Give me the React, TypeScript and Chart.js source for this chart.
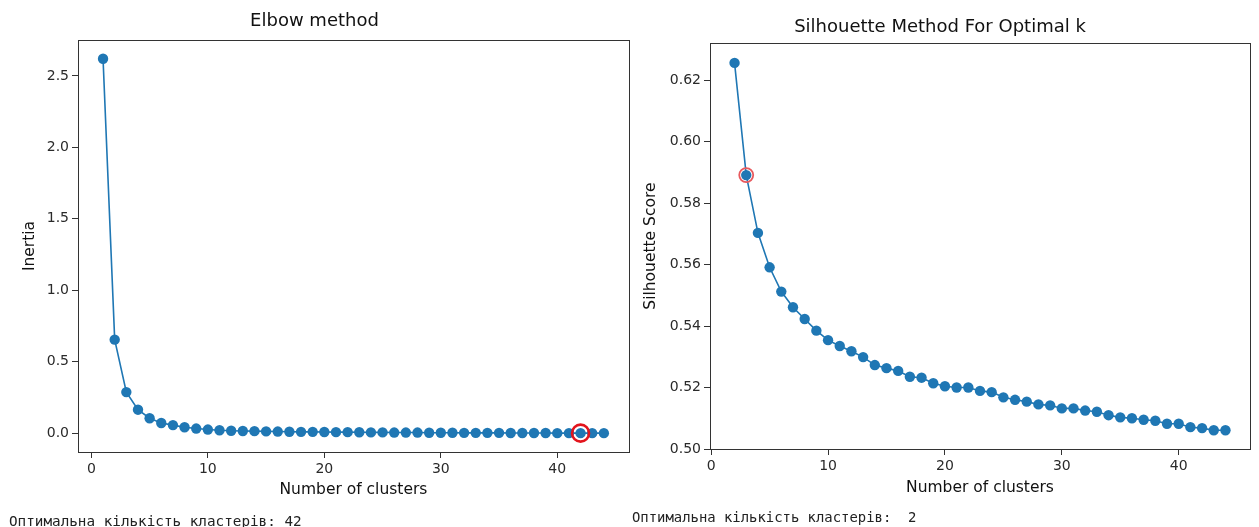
import React, { useEffect, useRef } from "react";
import { Chart, registerables } from "chart.js";

Chart.register(...registerables);

// ---------- DATA ----------
const elbowK = [
  1, 2, 3, 4, 5, 6, 7, 8, 9, 10, 11, 12, 13, 14, 15, 16, 17, 18, 19, 20, 21, 22,
  23, 24, 25, 26, 27, 28, 29, 30, 31, 32, 33, 34, 35, 36, 37, 38, 39, 40, 41, 42, 43, 44,
];
const elbowInertia = [
  2.62, 0.655, 0.288, 0.165, 0.105, 0.072, 0.057, 0.042, 0.033, 0.026, 0.021, 0.018,
  0.016, 0.015, 0.013, 0.012, 0.011, 0.01, 0.01, 0.009, 0.008, 0.008, 0.007, 0.006,
  0.006, 0.005, 0.005, 0.005, 0.004, 0.004, 0.004, 0.003, 0.003, 0.003, 0.003, 0.002,
  0.002, 0.002, 0.002, 0.001, 0.001, 0.001, 0.001, 0.001,
];
const elbowOptimalK = 42;

const silK = [
  2, 3, 4, 5, 6, 7, 8, 9, 10, 11, 12, 13, 14, 15, 16, 17, 18, 19, 20, 21, 22, 23,
  24, 25, 26, 27, 28, 29, 30, 31, 32, 33, 34, 35, 36, 37, 38, 39, 40, 41, 42, 43, 44,
];
const silScore = [
  0.6256, 0.5891, 0.5703, 0.5591, 0.5512, 0.5461, 0.5423, 0.5385, 0.5354, 0.5335,
  0.5318, 0.5299, 0.5273, 0.5263, 0.5254, 0.5235, 0.5232, 0.5214, 0.5204, 0.52,
  0.52, 0.5189, 0.5185, 0.5168, 0.516, 0.5154, 0.5145, 0.5142, 0.5132, 0.5132,
  0.5125, 0.5121, 0.511, 0.5103, 0.51, 0.5095, 0.5092, 0.5082, 0.5082, 0.5071,
  0.5068, 0.5061, 0.5061,
];
const silOptimalK = 3;

const xTicks = [0, 10, 20, 30, 40];
const elbowYTicks = [0.0, 0.5, 1.0, 1.5, 2.0, 2.5];
const silYTicks = [0.5, 0.52, 0.54, 0.56, 0.58, 0.6, 0.62];

const elbowTitle = "Elbow method";
const silTitle = "Silhouette Method For Optimal k";
const xLabel = "Number of clusters";
const elbowYLabel = "Inertia";
const silYLabel = "Silhouette Score";
const elbowNote = "Оптимальна кількість кластерів: 42";
const silNote = "Оптимальна кількість кластерів:  2";

// ---------- STYLE ----------
const BLUE = "#1f77b4";
const TEXT = "#2a2a2a";
const FONT = "'DejaVu Sans', sans-serif";

const boxPlugin = {
  id: "boxFrame",
  afterDatasetsDraw(chart: any) {
    const { ctx, chartArea } = chart;
    ctx.save();
    ctx.strokeStyle = "#333";
    ctx.lineWidth = 1;
    ctx.strokeRect(
      Math.round(chartArea.left) + 0.5,
      Math.round(chartArea.top) + 0.5,
      Math.round(chartArea.right - chartArea.left),
      Math.round(chartArea.bottom - chartArea.top)
    );
    ctx.restore();
  },
};

type Cfg = {
  xs: number[];
  ys: number[];
  optK: number;
  xMin: number;
  xMax: number;
  yMin: number;
  yMax: number;
  yTicks: number[];
  yDecimals: number;
  title: string;
  titlePad: { top: number; bottom: number };
  yLabel: string;
  yLabelPad: number;
  yAxisWidth: number;
  xAxisHeight: number;
  padRight: number;
  padBottom: number;
  ringRadius: number;
  ringWidth: number;
  ringColor: string;
};

function makeChart(canvas: HTMLCanvasElement, c: Cfg) {
  const pts = c.xs.map((x, i) => ({ x, y: c.ys[i] }));
  const idx = c.xs.indexOf(c.optK);
  const ring = [{ x: c.optK, y: c.ys[idx] }];
  return new Chart(canvas, {
    type: "scatter",
    data: {
      datasets: [
        {
          data: ring,
          order: 0,
          showLine: false,
          pointRadius: c.ringRadius,
          pointHoverRadius: c.ringRadius,
          pointBackgroundColor: "rgba(0,0,0,0)",
          pointBorderColor: c.ringColor,
          pointBorderWidth: c.ringWidth,
        },
        {
          data: pts,
          order: 1,
          showLine: true,
          borderColor: BLUE,
          borderWidth: 1.6,
          pointRadius: 5.2,
          pointHoverRadius: 5.2,
          pointBackgroundColor: BLUE,
          pointBorderColor: BLUE,
          pointBorderWidth: 0,
        },
      ],
    },
    options: {
      responsive: false,
      animation: false,
      devicePixelRatio: 1,
      layout: { padding: { left: 0, top: 0, right: c.padRight, bottom: c.padBottom } },
      plugins: {
        legend: { display: false },
        tooltip: { enabled: false },
        title: {
          display: true,
          text: c.title,
          color: "#111",
          font: { family: FONT, size: 18, weight: "normal" },
          padding: c.titlePad,
        },
      },
      scales: {
        x: {
          type: "linear",
          min: c.xMin,
          max: c.xMax,
          afterBuildTicks: (s: any) => {
            s.ticks = xTicks.map((v) => ({ value: v }));
          },
          afterFit: (s: any) => {
            s.height = c.xAxisHeight;
          },
          ticks: {
            color: TEXT,
            font: { family: FONT, size: 14 },
            padding: 3,
            maxRotation: 0,
            callback: (v: any) => String(v),
          },
          grid: {
            drawOnChartArea: false,
            drawTicks: true,
            tickLength: 6,
            tickColor: "#333",
            tickWidth: 1,
          },
          border: { display: false },
          title: {
            display: true,
            text: xLabel,
            color: "#111",
            font: { family: FONT, size: 15.5 },
            padding: { top: 0, bottom: 0 },
          },
        },
        y: {
          type: "linear",
          min: c.yMin,
          max: c.yMax,
          afterBuildTicks: (s: any) => {
            s.ticks = c.yTicks.map((v) => ({ value: v }));
          },
          afterFit: (s: any) => {
            s.width = c.yAxisWidth;
          },
          ticks: {
            color: TEXT,
            font: { family: FONT, size: 14 },
            padding: 3,
            callback: (v: any) => Number(v).toFixed(c.yDecimals),
          },
          grid: {
            drawOnChartArea: false,
            drawTicks: true,
            tickLength: 6,
            tickColor: "#333",
            tickWidth: 1,
          },
          border: { display: false },
          title: {
            display: true,
            text: c.yLabel,
            color: "#111",
            font: { family: FONT, size: 15.5 },
            padding: { top: c.yLabelPad, bottom: 0 },
          },
        },
      },
    },
    plugins: [boxPlugin],
  } as any);
}

export default function App() {
  const leftRef = useRef<HTMLCanvasElement>(null);
  const rightRef = useRef<HTMLCanvasElement>(null);

  useEffect(() => {
    const a = makeChart(leftRef.current!, {
      xs: elbowK,
      ys: elbowInertia,
      optK: elbowOptimalK,
      xMin: -1.15,
      xMax: 46.15,
      yMin: -0.131,
      yMax: 2.751,
      yTicks: elbowYTicks,
      yDecimals: 1,
      title: elbowTitle,
      titlePad: { top: 11, bottom: 7.4 },
      yLabel: elbowYLabel,
      yLabelPad: 20.5,
      yAxisWidth: 78,
      xAxisHeight: 47.5,
      padRight: 11,
      padBottom: 27.5,
      ringRadius: 8.5,
      ringWidth: 2.6,
      ringColor: "#e3141c",
    });
    const b = makeChart(rightRef.current!, {
      xs: silK,
      ys: silScore,
      optK: silOptimalK,
      xMin: -0.1,
      xMax: 46.1,
      yMin: 0.5,
      yMax: 0.632,
      yTicks: silYTicks,
      yDecimals: 2,
      title: silTitle,
      titlePad: { top: 16.6, bottom: 5 },
      yLabel: silYLabel,
      yLabelPad: 11.7,
      yAxisWidth: 80,
      xAxisHeight: 48,
      padRight: 9,
      padBottom: 30,
      ringRadius: 7,
      ringWidth: 1.8,
      ringColor: "#e85a5e",
    });
    return () => {
      a.destroy();
      b.destroy();
    };
  }, []);

  const mono = "'DejaVu Sans Mono', 'Liberation Mono', monospace";

  return (
    <div
      style={{
        position: "absolute",
        left: 0,
        top: 0,
        width: 1259,
        height: 527,
        background: "#fff",
        overflow: "hidden",
      }}
    >
      <canvas
        ref={leftRef}
        width={640}
        height={527}
        style={{ position: "absolute", left: 0, top: 0, width: 640, height: 527 }}
      />
      <canvas
        ref={rightRef}
        width={629}
        height={527}
        style={{ position: "absolute", left: 630, top: 0, width: 629, height: 527 }}
      />
      <div
        style={{
          position: "absolute",
          left: 9,
          top: 514,
          fontFamily: mono,
          fontSize: 14.3,
          lineHeight: "14px",
          color: "#222",
          whiteSpace: "pre",
        }}
      >
        {elbowNote}
      </div>
      <div
        style={{
          position: "absolute",
          left: 632,
          top: 510,
          fontFamily: mono,
          fontSize: 13.9,
          lineHeight: "14px",
          color: "#222",
          whiteSpace: "pre",
        }}
      >
        {silNote}
      </div>
    </div>
  );
}
